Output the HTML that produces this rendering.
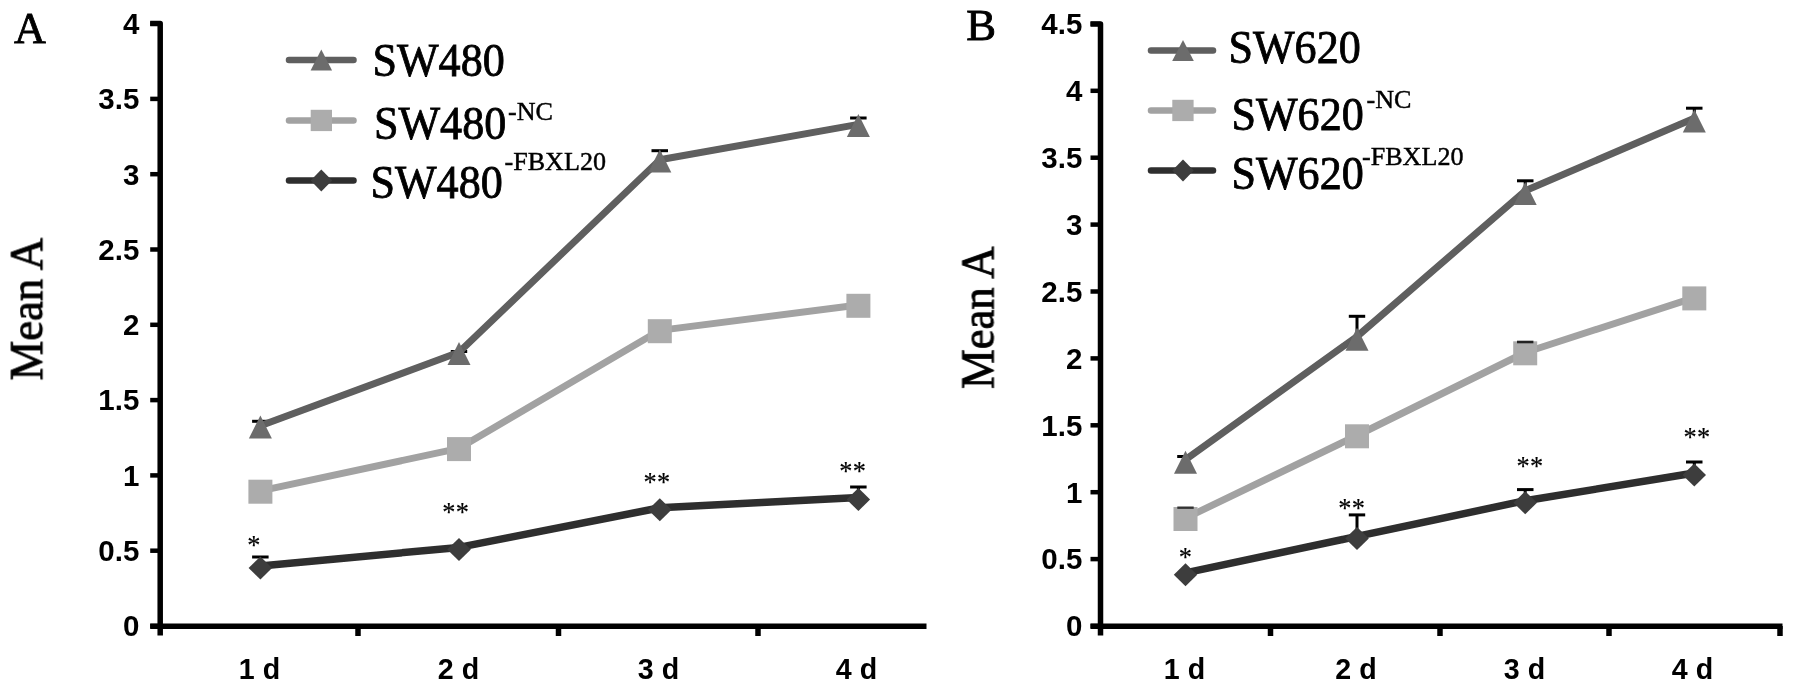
<!DOCTYPE html>
<html><head><meta charset="utf-8"><title>Figure</title>
<style>html,body{margin:0;padding:0;background:#fff;}svg{display:block}</style></head>
<body><svg width="1795" height="692" viewBox="0 0 1795 692">
<defs><filter id="soft" x="0" y="0" width="1795" height="692" filterUnits="userSpaceOnUse"><feGaussianBlur stdDeviation="0.55"/></filter></defs>
<rect width="1795" height="692" fill="#fff"/>
<g filter="url(#soft)">
<path d="M150.2,23.6 L160.2,23.6 L160.2,635.5" fill="none" stroke="#000" stroke-width="5.5" stroke-linejoin="round"/>
<line x1="150.2" y1="626.2" x2="926.5" y2="626.2" stroke="#000" stroke-width="5.5"/>
<line x1="150.2" y1="626.0" x2="160.2" y2="626.0" stroke="#000" stroke-width="4.5"/>
<text transform="translate(139.3,636.3)" text-anchor="end" font-family="Liberation Sans, Arial, sans-serif" font-weight="bold" font-size="29.5">0</text>
<line x1="150.2" y1="550.7" x2="160.2" y2="550.7" stroke="#000" stroke-width="4.5"/>
<text transform="translate(139.3,561.0)" text-anchor="end" font-family="Liberation Sans, Arial, sans-serif" font-weight="bold" font-size="29.5">0.5</text>
<line x1="150.2" y1="475.4" x2="160.2" y2="475.4" stroke="#000" stroke-width="4.5"/>
<text transform="translate(139.3,485.7)" text-anchor="end" font-family="Liberation Sans, Arial, sans-serif" font-weight="bold" font-size="29.5">1</text>
<line x1="150.2" y1="400.1" x2="160.2" y2="400.1" stroke="#000" stroke-width="4.5"/>
<text transform="translate(139.3,410.4)" text-anchor="end" font-family="Liberation Sans, Arial, sans-serif" font-weight="bold" font-size="29.5">1.5</text>
<line x1="150.2" y1="324.8" x2="160.2" y2="324.8" stroke="#000" stroke-width="4.5"/>
<text transform="translate(139.3,335.1)" text-anchor="end" font-family="Liberation Sans, Arial, sans-serif" font-weight="bold" font-size="29.5">2</text>
<line x1="150.2" y1="249.5" x2="160.2" y2="249.5" stroke="#000" stroke-width="4.5"/>
<text transform="translate(139.3,259.8)" text-anchor="end" font-family="Liberation Sans, Arial, sans-serif" font-weight="bold" font-size="29.5">2.5</text>
<line x1="150.2" y1="174.2" x2="160.2" y2="174.2" stroke="#000" stroke-width="4.5"/>
<text transform="translate(139.3,184.5)" text-anchor="end" font-family="Liberation Sans, Arial, sans-serif" font-weight="bold" font-size="29.5">3</text>
<line x1="150.2" y1="98.9" x2="160.2" y2="98.9" stroke="#000" stroke-width="4.5"/>
<text transform="translate(139.3,109.2)" text-anchor="end" font-family="Liberation Sans, Arial, sans-serif" font-weight="bold" font-size="29.5">3.5</text>
<line x1="150.2" y1="23.6" x2="160.2" y2="23.6" stroke="#000" stroke-width="4.5"/>
<text transform="translate(139.3,33.9)" text-anchor="end" font-family="Liberation Sans, Arial, sans-serif" font-weight="bold" font-size="29.5">4</text>
<line x1="358" y1="626" x2="358" y2="636" stroke="#000" stroke-width="5.5"/>
<line x1="558.5" y1="626" x2="558.5" y2="636" stroke="#000" stroke-width="5.5"/>
<line x1="758" y1="626" x2="758" y2="636" stroke="#000" stroke-width="5.5"/>
<text transform="translate(259.5,679.3) scale(0.97,1)" text-anchor="middle" font-family="Liberation Sans, Arial, sans-serif" font-weight="bold" font-size="29.5">1 d</text>
<text transform="translate(458.5,679.3) scale(0.97,1)" text-anchor="middle" font-family="Liberation Sans, Arial, sans-serif" font-weight="bold" font-size="29.5">2 d</text>
<text transform="translate(658.5,679.3) scale(0.97,1)" text-anchor="middle" font-family="Liberation Sans, Arial, sans-serif" font-weight="bold" font-size="29.5">3 d</text>
<text transform="translate(856.5,679.3) scale(0.97,1)" text-anchor="middle" font-family="Liberation Sans, Arial, sans-serif" font-weight="bold" font-size="29.5">4 d</text>
<line x1="252.1" y1="421.3" x2="268.6" y2="421.3" stroke="#000" stroke-width="3"/><line x1="260.4" y1="421.3" x2="260.4" y2="427.0" stroke="#000" stroke-width="3"/>
<line x1="450.8" y1="351.5" x2="467.2" y2="351.5" stroke="#000" stroke-width="3"/><line x1="459.0" y1="351.5" x2="459.0" y2="354.0" stroke="#000" stroke-width="3"/>
<line x1="651.5" y1="150.7" x2="668.0" y2="150.7" stroke="#000" stroke-width="3"/><line x1="659.8" y1="150.7" x2="659.8" y2="160.0" stroke="#000" stroke-width="3"/>
<line x1="850.1" y1="118.0" x2="866.6" y2="118.0" stroke="#000" stroke-width="3"/><line x1="858.4" y1="118.0" x2="858.4" y2="125.0" stroke="#000" stroke-width="3"/>
<line x1="252.1" y1="557.0" x2="268.6" y2="557.0" stroke="#000" stroke-width="3"/><line x1="260.4" y1="557.0" x2="260.4" y2="568.0" stroke="#000" stroke-width="3"/>
<line x1="850.1" y1="487.0" x2="866.6" y2="487.0" stroke="#000" stroke-width="3"/><line x1="858.4" y1="487.0" x2="858.4" y2="499.0" stroke="#000" stroke-width="3"/>
<polyline points="260.4,425.8 459.0,352.3 659.8,159.8 858.4,124.4" fill="none" stroke="#5e5e5e" stroke-width="7" stroke-linejoin="round" stroke-linecap="round"/>
<polyline points="260.4,490.9 459.0,448.3 659.8,330.4 858.4,305.0" fill="none" stroke="#a2a2a2" stroke-width="7" stroke-linejoin="round" stroke-linecap="round"/>
<polyline points="260.4,566.0 459.0,547.4 659.8,507.8 858.4,497.5" fill="none" stroke="#2e2e2e" stroke-width="7.5" stroke-linejoin="round" stroke-linecap="round"/>
<polygon points="260.4,415.5 271.9,438.5 248.9,438.5" fill="#6c6c6c"/>
<polygon points="459.0,342.0 470.5,365.0 447.5,365.0" fill="#6c6c6c"/>
<polygon points="659.8,149.5 671.3,172.5 648.3,172.5" fill="#6c6c6c"/>
<polygon points="858.4,114.1 869.9,137.1 846.9,137.1" fill="#6c6c6c"/>
<rect x="248.4" y="479.7" width="24" height="24" fill="#acacac"/>
<rect x="447.0" y="437.1" width="24" height="24" fill="#acacac"/>
<rect x="647.8" y="319.2" width="24" height="24" fill="#acacac"/>
<rect x="846.4" y="293.8" width="24" height="24" fill="#acacac"/>
<polygon points="260.4,556.5 272.1,568.0 260.4,579.5 248.6,568.0" fill="#3d3d3d"/>
<polygon points="459.0,537.9 470.8,549.4 459.0,560.9 447.2,549.4" fill="#3d3d3d"/>
<polygon points="659.8,498.3 671.5,509.8 659.8,521.3 648.0,509.8" fill="#3d3d3d"/>
<polygon points="858.4,488.0 870.1,499.5 858.4,511.0 846.6,499.5" fill="#3d3d3d"/>
<text x="254.0" y="553.7" text-anchor="middle" font-family="Liberation Serif, Times New Roman, serif" stroke="#000" stroke-width="0.2" font-size="26.3" letter-spacing="0.35">*</text>
<text x="455.85" y="521.3" text-anchor="middle" font-family="Liberation Serif, Times New Roman, serif" stroke="#000" stroke-width="0.2" font-size="26.3" letter-spacing="0.35">**</text>
<text x="656.95" y="490.5" text-anchor="middle" font-family="Liberation Serif, Times New Roman, serif" stroke="#000" stroke-width="0.2" font-size="26.3" letter-spacing="0.35">**</text>
<text x="852.85" y="479.7" text-anchor="middle" font-family="Liberation Serif, Times New Roman, serif" stroke="#000" stroke-width="0.2" font-size="26.3" letter-spacing="0.35">**</text>
<line x1="289" y1="60" x2="353.5" y2="60" stroke="#5e5e5e" stroke-width="6.5" stroke-linecap="round"/>
<line x1="289" y1="120.4" x2="353.5" y2="120.4" stroke="#a2a2a2" stroke-width="6.5" stroke-linecap="round"/>
<line x1="289" y1="180.5" x2="353.5" y2="180.5" stroke="#2e2e2e" stroke-width="6.5" stroke-linecap="round"/>
<polygon points="321.3,49.5 332.1,70.5 310.6,70.5" fill="#6c6c6c"/>
<rect x="310.7" y="109.8" width="21.3" height="21.3" fill="#acacac"/>
<polygon points="321.3,169.5 332.1,180.5 321.3,191.5 310.6,180.5" fill="#3d3d3d"/>
<text transform="translate(372.5,76.3) scale(0.938,1)" text-anchor="start" font-family="Liberation Serif, Times New Roman, serif" stroke="#000" stroke-width="0.85" font-size="47">SW480</text>
<text transform="translate(374,138.7) scale(0.938,1)" text-anchor="start" font-family="Liberation Serif, Times New Roman, serif" stroke="#000" stroke-width="0.85" font-size="47">SW480</text>
<text x="508" y="120.4" font-family="Liberation Serif, Times New Roman, serif" stroke="#000" stroke-width="0.45" font-size="26.1">-NC</text>
<text transform="translate(370.5,197.5) scale(0.938,1)" text-anchor="start" font-family="Liberation Serif, Times New Roman, serif" stroke="#000" stroke-width="0.85" font-size="47">SW480</text>
<text x="504.5" y="169.7" font-family="Liberation Serif, Times New Roman, serif" stroke="#000" stroke-width="0.45" font-size="26.1">-FBXL20</text>
<text transform="translate(14.0,42.9) scale(0.975,1)" text-anchor="start" font-family="Liberation Serif, Times New Roman, serif" stroke="#000" stroke-width="0.85" font-size="45.3">A</text>
<text transform="translate(42.2,380.5) rotate(-90) scale(0.965,1)" text-anchor="start" font-family="Liberation Serif, Times New Roman, serif" stroke="#000" stroke-width="0.85" font-size="46.3">Mean A</text>
<path d="M1090.5,23.9 L1100.5,23.9 L1100.5,635.5" fill="none" stroke="#000" stroke-width="5.5" stroke-linejoin="round"/>
<line x1="1090.5" y1="626.2" x2="1782.5" y2="626.2" stroke="#000" stroke-width="5.5"/>
<line x1="1090.5" y1="626.0" x2="1100.5" y2="626.0" stroke="#000" stroke-width="4.5"/>
<text transform="translate(1082.3,636.3)" text-anchor="end" font-family="Liberation Sans, Arial, sans-serif" font-weight="bold" font-size="29.5">0</text>
<line x1="1090.5" y1="559.1" x2="1100.5" y2="559.1" stroke="#000" stroke-width="4.5"/>
<text transform="translate(1082.3,569.4)" text-anchor="end" font-family="Liberation Sans, Arial, sans-serif" font-weight="bold" font-size="29.5">0.5</text>
<line x1="1090.5" y1="492.2" x2="1100.5" y2="492.2" stroke="#000" stroke-width="4.5"/>
<text transform="translate(1082.3,502.5)" text-anchor="end" font-family="Liberation Sans, Arial, sans-serif" font-weight="bold" font-size="29.5">1</text>
<line x1="1090.5" y1="425.3" x2="1100.5" y2="425.3" stroke="#000" stroke-width="4.5"/>
<text transform="translate(1082.3,435.6)" text-anchor="end" font-family="Liberation Sans, Arial, sans-serif" font-weight="bold" font-size="29.5">1.5</text>
<line x1="1090.5" y1="358.4" x2="1100.5" y2="358.4" stroke="#000" stroke-width="4.5"/>
<text transform="translate(1082.3,368.7)" text-anchor="end" font-family="Liberation Sans, Arial, sans-serif" font-weight="bold" font-size="29.5">2</text>
<line x1="1090.5" y1="291.5" x2="1100.5" y2="291.5" stroke="#000" stroke-width="4.5"/>
<text transform="translate(1082.3,301.8)" text-anchor="end" font-family="Liberation Sans, Arial, sans-serif" font-weight="bold" font-size="29.5">2.5</text>
<line x1="1090.5" y1="224.6" x2="1100.5" y2="224.6" stroke="#000" stroke-width="4.5"/>
<text transform="translate(1082.3,234.9)" text-anchor="end" font-family="Liberation Sans, Arial, sans-serif" font-weight="bold" font-size="29.5">3</text>
<line x1="1090.5" y1="157.7" x2="1100.5" y2="157.7" stroke="#000" stroke-width="4.5"/>
<text transform="translate(1082.3,168.0)" text-anchor="end" font-family="Liberation Sans, Arial, sans-serif" font-weight="bold" font-size="29.5">3.5</text>
<line x1="1090.5" y1="90.8" x2="1100.5" y2="90.8" stroke="#000" stroke-width="4.5"/>
<text transform="translate(1082.3,101.1)" text-anchor="end" font-family="Liberation Sans, Arial, sans-serif" font-weight="bold" font-size="29.5">4</text>
<line x1="1090.5" y1="23.9" x2="1100.5" y2="23.9" stroke="#000" stroke-width="4.5"/>
<text transform="translate(1082.3,34.2)" text-anchor="end" font-family="Liberation Sans, Arial, sans-serif" font-weight="bold" font-size="29.5">4.5</text>
<line x1="1270.5" y1="626" x2="1270.5" y2="636" stroke="#000" stroke-width="5.5"/>
<line x1="1440" y1="626" x2="1440" y2="636" stroke="#000" stroke-width="5.5"/>
<line x1="1609" y1="626" x2="1609" y2="636" stroke="#000" stroke-width="5.5"/>
<line x1="1780" y1="626" x2="1780" y2="636" stroke="#000" stroke-width="5.5"/>
<text transform="translate(1184.5,679.3) scale(0.97,1)" text-anchor="middle" font-family="Liberation Sans, Arial, sans-serif" font-weight="bold" font-size="29.5">1 d</text>
<text transform="translate(1356,679.3) scale(0.97,1)" text-anchor="middle" font-family="Liberation Sans, Arial, sans-serif" font-weight="bold" font-size="29.5">2 d</text>
<text transform="translate(1524.5,679.3) scale(0.97,1)" text-anchor="middle" font-family="Liberation Sans, Arial, sans-serif" font-weight="bold" font-size="29.5">3 d</text>
<text transform="translate(1692.5,679.3) scale(0.97,1)" text-anchor="middle" font-family="Liberation Sans, Arial, sans-serif" font-weight="bold" font-size="29.5">4 d</text>
<line x1="1177.2" y1="456.5" x2="1193.8" y2="456.5" stroke="#000" stroke-width="3"/><line x1="1185.5" y1="456.5" x2="1185.5" y2="462.0" stroke="#000" stroke-width="3"/>
<line x1="1348.8" y1="316.3" x2="1365.2" y2="316.3" stroke="#000" stroke-width="3"/><line x1="1357.0" y1="316.3" x2="1357.0" y2="335.0" stroke="#000" stroke-width="3"/>
<line x1="1517.0" y1="180.8" x2="1533.5" y2="180.8" stroke="#000" stroke-width="3"/><line x1="1525.2" y1="180.8" x2="1525.2" y2="190.0" stroke="#000" stroke-width="3"/>
<line x1="1686.0" y1="108.2" x2="1702.5" y2="108.2" stroke="#000" stroke-width="3"/><line x1="1694.3" y1="108.2" x2="1694.3" y2="118.0" stroke="#000" stroke-width="3"/>
<line x1="1348.8" y1="514.9" x2="1365.2" y2="514.9" stroke="#000" stroke-width="3"/><line x1="1357.0" y1="514.9" x2="1357.0" y2="535.0" stroke="#000" stroke-width="3"/>
<line x1="1517.0" y1="489.6" x2="1533.5" y2="489.6" stroke="#000" stroke-width="3"/><line x1="1525.2" y1="489.6" x2="1525.2" y2="500.0" stroke="#000" stroke-width="3"/>
<line x1="1686.0" y1="462.0" x2="1702.5" y2="462.0" stroke="#000" stroke-width="3"/><line x1="1694.3" y1="462.0" x2="1694.3" y2="474.0" stroke="#000" stroke-width="3"/>
<polyline points="1185.5,459.6 1357.0,336.5 1525.2,190.8 1694.3,118.3" fill="none" stroke="#5e5e5e" stroke-width="7" stroke-linejoin="round" stroke-linecap="round"/>
<polyline points="1185.5,518.2 1357.0,435.5 1525.2,352.5 1694.3,297.6" fill="none" stroke="#a2a2a2" stroke-width="7" stroke-linejoin="round" stroke-linecap="round"/>
<polyline points="1185.5,572.8 1357.0,536.4 1525.2,500.7 1694.3,473.0" fill="none" stroke="#2e2e2e" stroke-width="7.5" stroke-linejoin="round" stroke-linecap="round"/>
<polygon points="1185.5,450.8 1197.0,473.8 1174.0,473.8" fill="#6c6c6c"/>
<polygon points="1357.0,327.7 1368.5,350.7 1345.5,350.7" fill="#6c6c6c"/>
<polygon points="1525.2,182.0 1536.7,205.0 1513.7,205.0" fill="#6c6c6c"/>
<polygon points="1694.3,109.5 1705.8,132.5 1682.8,132.5" fill="#6c6c6c"/>
<rect x="1173.5" y="507.0" width="24" height="24" fill="#acacac"/>
<rect x="1345.0" y="424.3" width="24" height="24" fill="#acacac"/>
<rect x="1513.2" y="341.3" width="24" height="24" fill="#acacac"/>
<rect x="1682.3" y="286.4" width="24" height="24" fill="#acacac"/>
<line x1="1177.3" y1="507.7" x2="1193.7" y2="507.7" stroke="#333" stroke-width="2.4"/>
<line x1="1517.0" y1="342" x2="1533.4" y2="342" stroke="#222" stroke-width="2.6"/>
<polygon points="1185.5,563.3 1197.2,574.8 1185.5,586.3 1173.8,574.8" fill="#3d3d3d"/>
<polygon points="1357.0,526.9 1368.8,538.4 1357.0,549.9 1345.2,538.4" fill="#3d3d3d"/>
<polygon points="1525.2,491.2 1537.0,502.7 1525.2,514.2 1513.5,502.7" fill="#3d3d3d"/>
<polygon points="1694.3,463.5 1706.0,475.0 1694.3,486.5 1682.5,475.0" fill="#3d3d3d"/>
<text x="1185.6" y="566.4" text-anchor="middle" font-family="Liberation Serif, Times New Roman, serif" stroke="#000" stroke-width="0.2" font-size="26.3" letter-spacing="0.35">*</text>
<text x="1351.85" y="516.8" text-anchor="middle" font-family="Liberation Serif, Times New Roman, serif" stroke="#000" stroke-width="0.2" font-size="26.3" letter-spacing="0.35">**</text>
<text x="1529.9499999999998" y="474.6" text-anchor="middle" font-family="Liberation Serif, Times New Roman, serif" stroke="#000" stroke-width="0.2" font-size="26.3" letter-spacing="0.35">**</text>
<text x="1697.05" y="445.7" text-anchor="middle" font-family="Liberation Serif, Times New Roman, serif" stroke="#000" stroke-width="0.2" font-size="26.3" letter-spacing="0.35">**</text>
<line x1="1151" y1="50.5" x2="1213" y2="50.5" stroke="#5e5e5e" stroke-width="6.5" stroke-linecap="round"/>
<line x1="1151" y1="110.5" x2="1213" y2="110.5" stroke="#a2a2a2" stroke-width="6.5" stroke-linecap="round"/>
<line x1="1151" y1="170.6" x2="1213" y2="170.6" stroke="#2e2e2e" stroke-width="6.5" stroke-linecap="round"/>
<polygon points="1183.0,40.0 1193.8,61.0 1172.2,61.0" fill="#6c6c6c"/>
<rect x="1172.3" y="99.8" width="21.3" height="21.3" fill="#acacac"/>
<polygon points="1183.0,159.6 1193.8,170.6 1183.0,181.6 1172.2,170.6" fill="#3d3d3d"/>
<text transform="translate(1228.5,62.6) scale(0.938,1)" text-anchor="start" font-family="Liberation Serif, Times New Roman, serif" stroke="#000" stroke-width="0.85" font-size="47">SW620</text>
<text transform="translate(1231.5,129.9) scale(0.938,1)" text-anchor="start" font-family="Liberation Serif, Times New Roman, serif" stroke="#000" stroke-width="0.85" font-size="47">SW620</text>
<text x="1366.5" y="108.2" font-family="Liberation Serif, Times New Roman, serif" stroke="#000" stroke-width="0.45" font-size="26.1">-NC</text>
<text transform="translate(1231.5,189.1) scale(0.938,1)" text-anchor="start" font-family="Liberation Serif, Times New Roman, serif" stroke="#000" stroke-width="0.85" font-size="47">SW620</text>
<text x="1362" y="164.8" font-family="Liberation Serif, Times New Roman, serif" stroke="#000" stroke-width="0.45" font-size="26.1">-FBXL20</text>
<text transform="translate(966.2,40.3) scale(1.02,1)" text-anchor="start" font-family="Liberation Serif, Times New Roman, serif" stroke="#000" stroke-width="0.85" font-size="43.8">B</text>
<text transform="translate(993.5,389) rotate(-90) scale(0.965,1)" text-anchor="start" font-family="Liberation Serif, Times New Roman, serif" stroke="#000" stroke-width="0.85" font-size="46.3">Mean A</text>
</g>
</svg></body></html>
